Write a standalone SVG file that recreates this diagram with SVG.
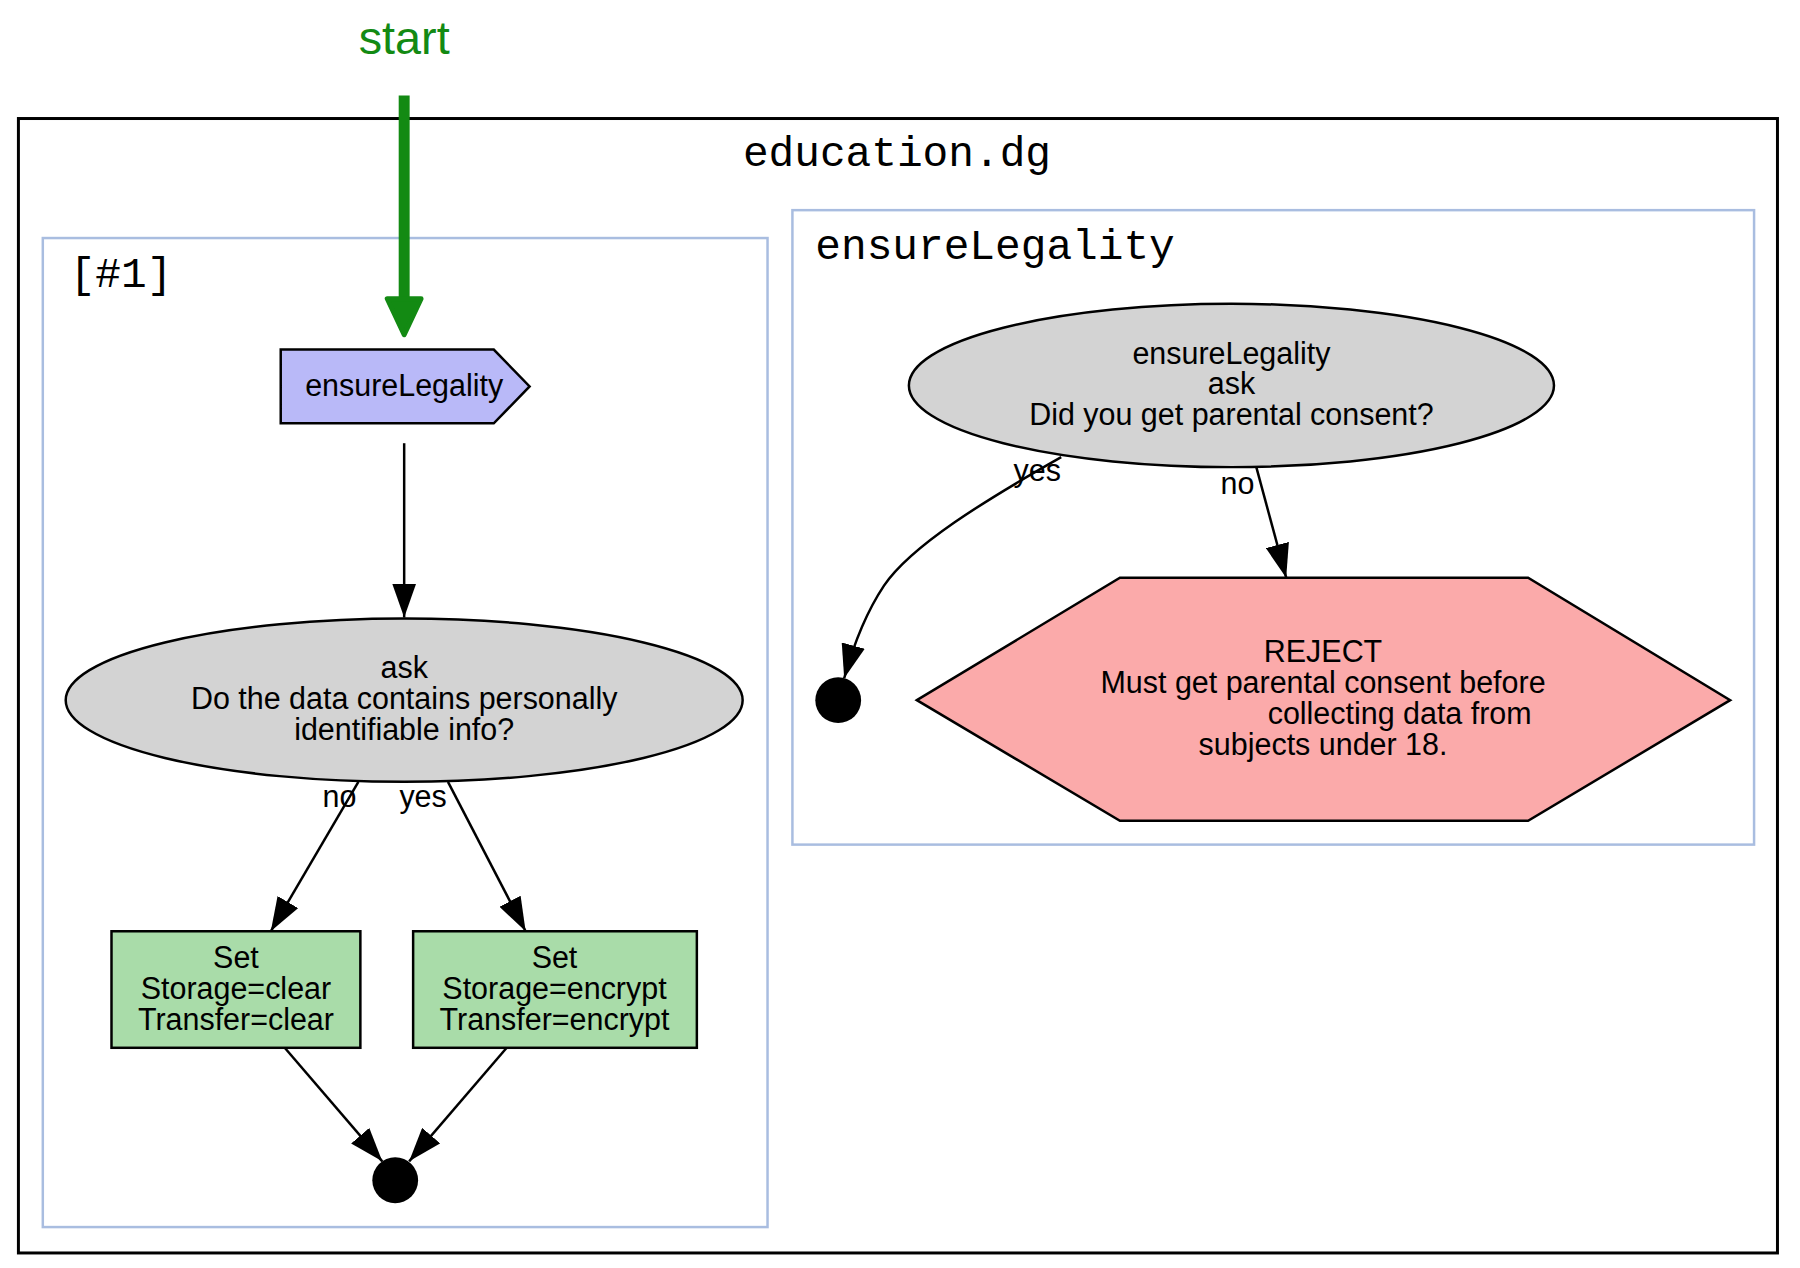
<svg xmlns="http://www.w3.org/2000/svg" width="1800" height="1268" viewBox="0 0 1800 1268">
<style>
.lbl{font-family:"Liberation Sans",Arial,sans-serif;font-size:30.6px;fill:#000;text-anchor:middle}
.mono{font-family:"Liberation Mono","Courier New",monospace;font-size:43px;fill:#000}
.cluster{fill:none;stroke:#a9bde0;stroke-width:2.5}
.edge{fill:none;stroke:#000;stroke-width:2.5}
.nd{stroke:#000;stroke-width:2.5}
</style>
<defs>
<marker id="ah" markerUnits="userSpaceOnUse" viewBox="0 0 34 24" refX="34" refY="12" markerWidth="34" markerHeight="24" orient="auto">
<path d="M0,0 L34,12 L0,24 z" fill="#000"/>
</marker>
</defs>
<rect width="1800" height="1268" fill="#fff"/>
<g transform="scale(0.9955 0.996)">
<g id="outer">
<rect x="18.5" y="119" width="1767" height="1139" fill="none" stroke="#000" stroke-width="3"/>
<text class="mono" x="901" y="167" text-anchor="middle">education.dg</text>
</g>
<g id="cluster1">
<rect class="cluster" x="43" y="239" width="728" height="993"/>
<text class="mono" x="70" y="288">[#1]</text>
</g>
<g id="cluster2">
<rect class="cluster" x="796" y="211" width="966" height="637"/>
<text class="mono" x="819" y="260">ensureLegality</text>
</g>
<g id="start">
<text x="406" y="54" font-family="'Liberation Sans',Arial,sans-serif" font-size="47" fill="#138a13" text-anchor="middle">start</text>
</g>
<g id="connectors">
<line x1="406" y1="96" x2="406" y2="305" stroke="#138a13" stroke-width="11"/>
<path d="M389,300 L423,300 L406,336 z" fill="#138a13" stroke="#138a13" stroke-width="5" stroke-linejoin="round"/>
<line class="edge" x1="406" y1="445" x2="406" y2="620" marker-end="url(#ah)"/>
<line class="edge" x1="360" y1="785" x2="272" y2="935" marker-end="url(#ah)"/>
<line class="edge" x1="450" y1="785" x2="528" y2="935" marker-end="url(#ah)"/>
<line class="edge" x1="286" y1="1052" x2="384" y2="1166" marker-end="url(#ah)"/>
<line class="edge" x1="509" y1="1052" x2="411" y2="1166" marker-end="url(#ah)"/>
<path class="edge" d="M1066,459 C990,502 915,548 888,588 C870,615 858,645 848,681" marker-end="url(#ah)"/>
<line class="edge" x1="1262" y1="469" x2="1292" y2="580" marker-end="url(#ah)"/>
<text class="lbl" x="341" y="810">no</text>
<text class="lbl" x="425" y="810">yes</text>
<text class="lbl" x="1042" y="483">yes</text>
<text class="lbl" x="1243" y="496">no</text>
</g>
<g id="n_ensure_call">
<polygon class="nd" points="282,351 496,351 532,388 496,425 282,425" fill="#b9b9f8"/>
<text class="lbl" x="406" y="398">ensureLegality</text>
</g>
<g id="n_ask1">
<ellipse class="nd" cx="406" cy="703" rx="340" ry="82" fill="#d3d3d3"/>
<text class="lbl" x="406" y="681">ask</text>
<text class="lbl" x="406" y="712">Do the data contains personally</text>
<text class="lbl" x="406" y="743">identifiable info?</text>
</g>
<g id="n_clear">
<rect class="nd" x="112" y="935" width="250" height="117" fill="#a9dca9"/>
<text class="lbl" x="237" y="972">Set</text>
<text class="lbl" x="237" y="1003">Storage=clear</text>
<text class="lbl" x="237" y="1034">Transfer=clear</text>
</g>
<g id="n_encrypt">
<rect class="nd" x="415" y="935" width="285" height="117" fill="#a9dca9"/>
<text class="lbl" x="557" y="972">Set</text>
<text class="lbl" x="557" y="1003">Storage=encrypt</text>
<text class="lbl" x="557" y="1034">Transfer=encrypt</text>
</g>
<g id="n_end1">
<circle cx="397" cy="1185" r="23" fill="#000"/>
</g>
<g id="n_ask2">
<ellipse class="nd" cx="1237" cy="387" rx="324" ry="82" fill="#d3d3d3"/>
<text class="lbl" x="1237" y="365">ensureLegality</text>
<text class="lbl" x="1237" y="396">ask</text>
<text class="lbl" x="1237" y="427">Did you get parental consent?</text>
</g>
<g id="n_end2">
<circle cx="842" cy="703" r="23" fill="#000"/>
</g>
<g id="n_reject">
<polygon class="nd" points="921,703 1125,580 1535,580 1738,703 1535,824 1125,824" fill="#fbaaaa"/>
<text class="lbl" x="1329" y="665">REJECT</text>
<text class="lbl" x="1329" y="696">Must get parental consent before</text>
<text class="lbl" x="1406" y="727">collecting data from</text>
<text class="lbl" x="1329" y="758">subjects under 18.</text>
</g>
</g>
</svg>
